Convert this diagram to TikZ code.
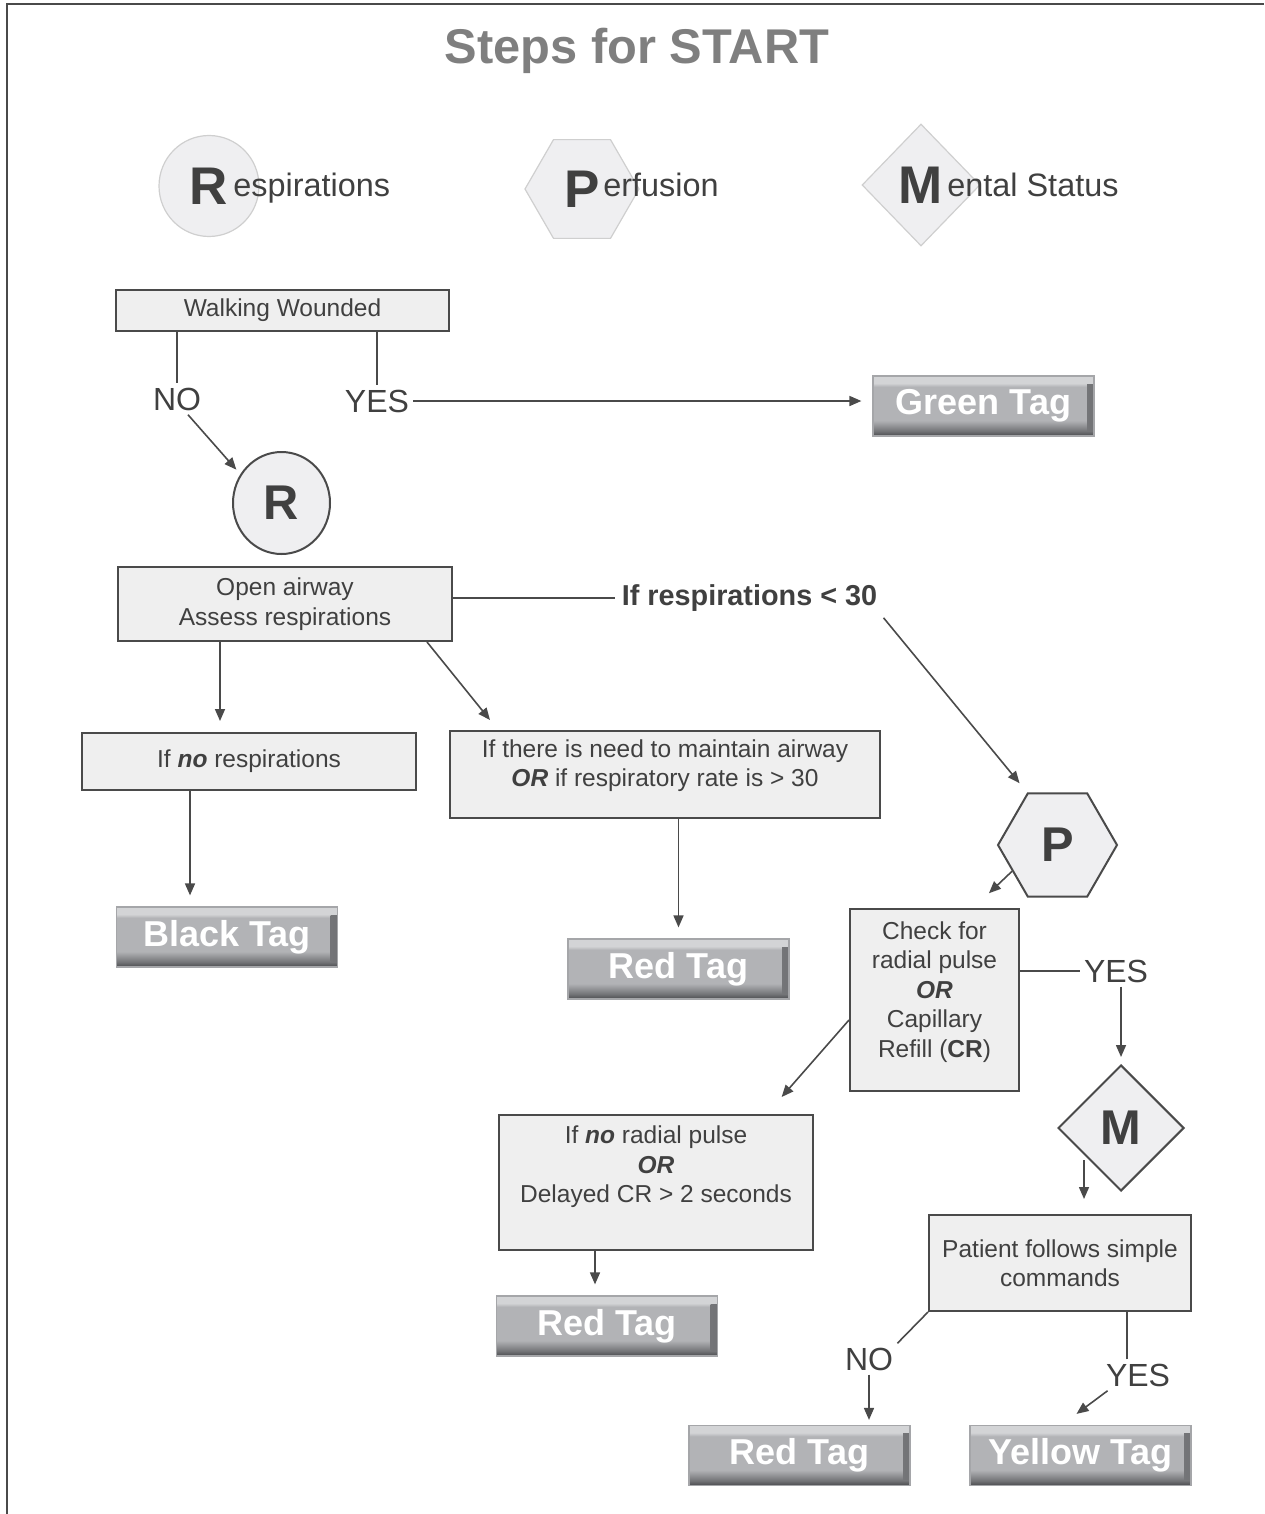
\documentclass[tikz,border=0pt]{standalone}
\usepackage{fontspec}
\setmainfont{Liberation Sans}
\usepackage{xcolor}
\usetikzlibrary{arrows.meta,shapes.geometric}

\definecolor{txt}{HTML}{404040}
\definecolor{ln}{HTML}{4A4A4A}
\definecolor{boxfill}{HTML}{EFEFEF}
\definecolor{shapefill}{HTML}{EFEFF1}
\definecolor{legedge}{HTML}{CFCFCF}
\definecolor{ttl}{HTML}{7F7F7F}
\definecolor{tagdark}{HTML}{4A4B4E}
\definecolor{tagshadow}{HTML}{727376}
\definecolor{tagface}{HTML}{B2B3B6}
\definecolor{taglight}{HTML}{D3D4D6}
\definecolor{tagedge}{HTML}{A5A6A9}
\pgfdeclareverticalshading{tagshade}{100bp}{color(0bp)=(tagdark); color(25bp)=(tagdark); color(29bp)=(tagshadow); color(38bp)=(tagface); color(66bp)=(tagface); color(69bp)=(taglight); color(100bp)=(taglight)}

\begin{document}
\begin{tikzpicture}[x=0.5pt, y=-0.5pt,
    every node/.style={text=txt, inner sep=2pt},
    box/.style={draw=ln, line width=1pt, fill=boxfill, align=center, inner sep=0pt, font=\fontsize{12.25}{14.75}\selectfont},
    legshape/.style={draw=legedge, line width=0.6pt, fill=shapefill, inner sep=0pt, font=\fontsize{26.5}{30}\selectfont\bfseries},
    legtext/.style={font=\fontsize{16.2}{19}\selectfont, inner sep=0pt, anchor=base west},
    flowshape/.style={draw=ln, line width=1pt, fill=shapefill, inner sep=0pt, font=\fontsize{24.4}{28}\selectfont\bfseries},
    lab/.style={font=\fontsize{16}{19}\selectfont},
    tag/.style={shade, shading=tagshade, draw=tagedge, line width=0.6pt, text=white, inner sep=0pt, minimum width=110.5pt, minimum height=30pt, font=\fontsize{18}{21}\selectfont\bfseries,
        path picture={\shade[left color=tagface, right color=tagshadow] ([xshift=-3.5pt, yshift=-4pt]path picture bounding box.north east) rectangle ([yshift=3pt]path picture bounding box.south east);}},
    arr/.style={draw=ln, line width=0.8pt, -{Triangle[length=6pt,width=5pt]}},
    con/.style={draw=ln, line width=0.8pt}]
    \useasboundingbox (0,0) rectangle (1264,1514);
    \draw[ln, line width=1pt] (7,1514) -- (7,4) -- (1264,4);

    \node[font=\fontsize{24.4}{29}\selectfont\bfseries, text=ttl] (title) at (637,51) {Steps for START};

    \node[legshape, ellipse, minimum width=50pt, minimum height=50.5pt] (legR) at (209,186) {R};
    \node[legtext] (legRt) at (233,197) {espirations};
    \node[legshape, regular polygon, regular polygon sides=6, minimum size=57pt] (legP) at (582,189) {P};
    \node[legtext] (legPt) at (603,197) {erfusion};
    \node[legshape, diamond, minimum width=59pt, minimum height=61pt] (legM) at (921,185) {M};
    \node[legtext] (legMt) at (947,197) {ental Status};

    \node[box, minimum width=166.5pt, minimum height=20.5pt] (walk) at (282.5,310.5) {Walking Wounded};
    \node[lab] (no) at (177,399) {NO};
    \node[lab] (yes) at (377,401) {YES};
    \node[tag] (green) at (983.5,406) {Green Tag};
    \node[flowshape, ellipse, minimum width=48.5pt, minimum height=51pt] (rc) at (281.5,503) {R};
    \node[box, minimum width=167pt, minimum height=37pt] (airway) at (285,604) {Open airway\\Assess respirations};
    \node[font=\fontsize{14.4}{17}\selectfont\bfseries, inner sep=3pt] (resp) at (749.5,598) {If respirations < 30};
    \node[box, minimum width=167pt, minimum height=28.5pt] (norsp) at (249,761.5) {If \textbf{\textit{no}} respirations};
    \node[box, minimum width=215pt, minimum height=43.5pt] (maint) at (665,774.5) {If there is need to maintain airway\\\textbf{\textit{OR}} if respiratory rate is > 30\\[-3.6pt]{}};
    \node[tag] (black) at (227,937) {Black Tag};
    \node[tag] (red1) at (678.5,969) {Red Tag};

    \node[flowshape, regular polygon, regular polygon sides=6, minimum size=59.5pt] (phex) at (1057.5,845) {P};
    \node[box, minimum width=84.5pt, minimum height=91pt] (check) at (934.5,1000) {Check for\\radial pulse\\\textbf{\textit{OR}}\\Capillary\\Refill (\textbf{CR})\\[-4.2pt]{}};
    \node[lab] (yes2) at (1116,971) {YES};
    \node[flowshape, diamond, minimum width=63pt, minimum height=63pt] (mdia) at (1121,1128) {M};
    \node[box, minimum width=157pt, minimum height=67.5pt] (noradial) at (656,1182.5) {If \textbf{\textit{no}} radial pulse\\\textbf{\textit{OR}}\\Delayed CR > 2 seconds\\[3.3pt]{}};
    \node[tag] (red2) at (607,1326) {Red Tag};
    \node[box, minimum width=131pt, minimum height=48pt] (patient) at (1060,1263) {Patient follows simple\\commands};
    \node[lab] (no2) at (869,1359) {NO};
    \node[lab] (yes3) at (1138,1375) {YES};
    \node[tag] (red3) at (799.5,1455.5) {Red Tag};
    \node[tag] (yellow) at (1080.5,1455.5) {Yellow Tag};

    \draw[con] (walk.south -| no) -- (no.north);
    \draw[con] (walk.south -| yes) -- (yes.north);
    \draw[arr, shorten >=5.5pt] (yes.east) -- (yes.east -| green.west);
    \draw[arr, shorten >=3pt] ([xshift=5.5pt]no.south) -- (rc.145);
    \draw[con] (airway.east |- resp) -- (resp.west);
    \draw[arr, shorten >=6pt] (resp.south east) -- (phex.120);
    \draw[arr, shorten >=5.5pt] ([xshift=-32.5pt]airway.south) -- ([xshift=-32.5pt]airway.south |- norsp.north);
    \draw[arr] ([xshift=71pt]airway.south) -- ([shift={(20.5pt,5pt)}]maint.north west);
    \draw[arr, shorten >=5.5pt] ([xshift=-18.5pt]black.north |- norsp.south) -- ([xshift=-18.5pt]black.north);
    \draw[arr, shorten >=5.5pt] (maint.south -| red1) -- (red1.north);
    \draw[arr, shorten >=2pt] (phex.210) -- ([shift={(-17pt,6pt)}]check.north east);
    \draw[con] (check.east |- yes2) -- (yes2.west);
    \draw[arr, shorten >=3.5pt] (yes2.south -| mdia) -- (mdia.north);
    \draw[arr, shorten >=2pt] ([yshift=-10pt]check.west) -- ([shift={(-17.5pt,7pt)}]noradial.north east);
    \draw[arr, shorten >=5.5pt] ([xshift=-6pt]red2.north |- noradial.south) -- ([xshift=-6pt]red2.north);
    \draw[arr, shorten >=7.5pt] ([xshift=-2.5pt]mdia.south west) -- ([xshift=-2.5pt]mdia.south west |- patient.north);
    \draw[con] ([xshift=-5.5pt]yes3.north) -- ([xshift=-5.5pt]yes3.north |- patient.south);
    \draw[arr] ([xshift=3pt]yes3.south west) -- ([shift={(-2pt,5.5pt)}]yellow.north);
    \draw[con] (patient.south west) -- (no2.north east);
    \draw[arr, shorten >=2.5pt] (no2.south) -- (no2.south |- red3.north);
\end{tikzpicture}
\end{document}
